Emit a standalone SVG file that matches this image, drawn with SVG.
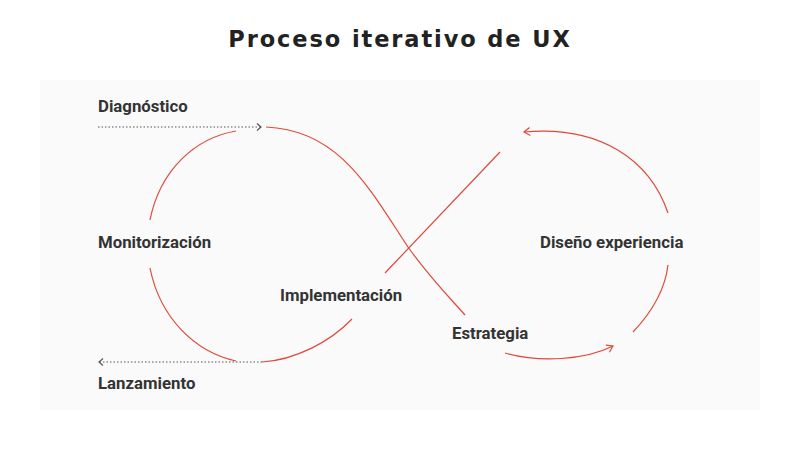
<svg xmlns="http://www.w3.org/2000/svg" width="800" height="450" viewBox="0 0 800 450">
<style>
.c{fill:none;stroke:#e0483c;stroke-width:1.2}
.d{fill:none;stroke:#555;stroke-width:1.2;stroke-dasharray:1.5 2}
.l{font-family:Roboto,"Liberation Sans",sans-serif;font-weight:bold;font-size:16.8px;fill:#333}
</style>
<defs>
<marker id="ar" markerWidth="10" markerHeight="10" refX="8" refY="5" orient="auto" markerUnits="userSpaceOnUse"><path d="M2,1 L8,5 L2,9" fill="none" stroke="#e0483c" stroke-width="1.2"/></marker>
<marker id="ad" markerWidth="10" markerHeight="10" refX="7" refY="5" orient="auto" markerUnits="userSpaceOnUse"><path d="M3,1.5 L7,5 L3,8.5" fill="none" stroke="#555" stroke-width="1.2"/></marker>
</defs>
<rect width="800" height="450" fill="#fff"/>
<rect x="40" y="80" width="720" height="330" fill="#fafafa"/>
<text x="400" y="47" text-anchor="middle" font-family="'DejaVu Sans',Lato,sans-serif" font-weight="bold" font-size="22.5" fill="#222" letter-spacing="1.9">Proceso iterativo de UX</text>
<g id="connectors">
<path class="d" d="M98,127 H261" marker-end="url(#ad)"/>
<path class="d" d="M262,362 H99" marker-end="url(#ad)"/>
<path class="c" d="M150,220 C160,170 195,138 236,131"/>
<path class="c" d="M150,268 C160,318 195,352 236,361"/>
<path class="c" d="M262,362 C295,360 330,342 352,319"/>
<path class="c" d="M266,127 C340,130 370,190 408,247 C430,278 450,298 465,315"/>
<path class="c" d="M385,273 L500,152"/>
<path class="c" d="M668,213 C650,160 600,125 524,132" marker-end="url(#ar)"/>
<path class="c" d="M668,265 C665,290 652,312 633,332"/>
<path class="c" d="M505,353 C540,363 585,360 613,346" marker-end="url(#ar)"/>
</g>
<g id="n-diag"><text class="l" x="98" y="112">Diagnóstico</text></g>
<g id="n-monit"><text class="l" x="98" y="248">Monitorización</text></g>
<g id="n-lanz"><text class="l" x="98" y="389">Lanzamiento</text></g>
<g id="n-impl"><text class="l" x="280" y="301">Implementación</text></g>
<g id="n-estr"><text class="l" x="452" y="339">Estrategia</text></g>
<g id="n-dis"><text class="l" x="540" y="248">Diseño experiencia</text></g>
</svg>
